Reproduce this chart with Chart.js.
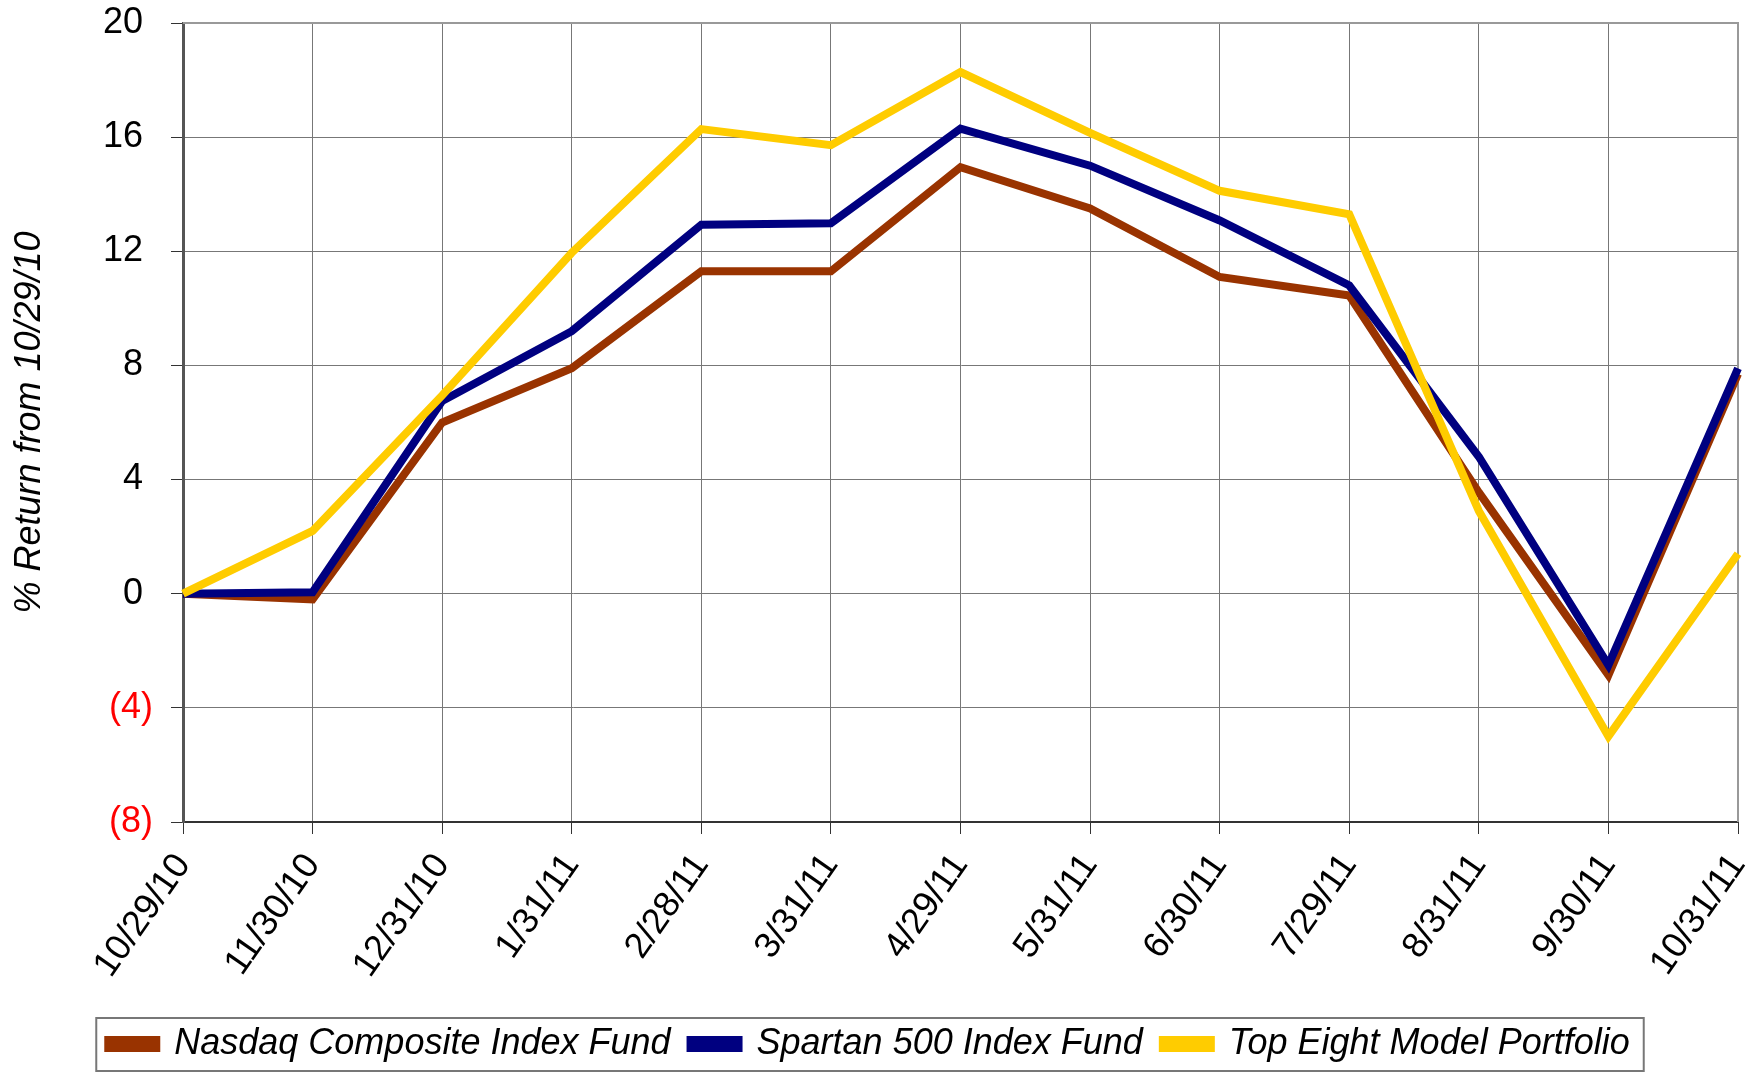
<!DOCTYPE html>
<html>
<head>
<meta charset="utf-8">
<script src="https://cdn.jsdelivr.net/npm/chart.js@4/dist/chart.umd.min.js"></script>
<style>
  html, body { margin: 0; padding: 0; background: #fff; }
  #wrap { width: 1747px; height: 1072px; }
</style>
</head>
<body>
<div id="wrap"><canvas id="chart" width="1747" height="1072"></canvas></div>
<script>
// dates of the month-end points
const dates = ['10/29/10', '11/30/10', '12/31/10', '1/31/11', '2/28/11', '3/31/11', '4/29/11',
               '5/31/11', '6/30/11', '7/29/11', '8/31/11', '9/30/11', '10/31/11']

// % return from 10/29/10
const nasdaq   = [0, -0.2, 6.0, 7.9, 11.3, 11.3, 14.95, 13.5, 11.1, 10.45, 3.55, -2.85, 7.7]
const spartan  = [0, 0.05, 6.75, 9.2, 12.93, 12.98, 16.3, 15.0, 13.08, 10.8, 4.8, -2.5, 7.9]
const topEight = [0, 2.2, 6.95, 11.95, 16.28, 15.72, 18.28, 16.15, 14.12, 13.3, 2.9, -5.0, 1.4]

const seriesNames = ['Nasdaq Composite Index Fund', 'Spartan 500 Index Fund', 'Top Eight Model Portfolio']
const seriesColors = ['#993300', '#000080', '#FFCC00']

const yMin = -8
const yMax = 20
const yStep = 4

const FONT = 'Arial, "Liberation Sans", sans-serif'

// frame around plot + box around legend
const framePlugin = {
    id: 'frame',
    beforeDatasetsDraw(chart) {
        const {ctx, chartArea: a} = chart
        ctx.save()
        ctx.strokeStyle = '#999'
        ctx.lineWidth = 2
        ctx.beginPath()
        ctx.moveTo(a.left, a.top)
        ctx.lineTo(a.right, a.top)
        ctx.lineTo(a.right, a.bottom)
        ctx.stroke()
        ctx.restore()
    },
    afterDraw(chart) {
        const lg = chart.legend
        if (!lg || !lg.legendHitBoxes.length) return
        const boxes = lg.legendHitBoxes
        const left = Math.min(...boxes.map(b => b.left)) - 12
        const right = Math.max(...boxes.map(b => b.left + b.width)) + 14
        const ctx = chart.ctx
        ctx.save()
        ctx.strokeStyle = '#777'
        ctx.lineWidth = 2
        ctx.strokeRect(left, lg.top + 12, right - left, chart.height - lg.top - 13)
        ctx.restore()
    }
}

const makeSet = (i, data, order) => ({
    label: seriesNames[i],
    data,
    borderColor: seriesColors[i],
    backgroundColor: seriesColors[i],
    borderWidth: 8,
    pointRadius: 0,
    tension: 0,
    order
})

const gridOpts = {
    color: '#777',
    lineWidth: 1,
    borderDash: [1, 1],
    tickLength: 12,
    tickColor: '#333',
    tickBorderDash: [],
    tickWidth: 1
}

new Chart(document.getElementById('chart').getContext('2d'), {
    type: 'line',
    data: {
        labels: dates,
        datasets: [
            makeSet(0, nasdaq, 2),
            makeSet(1, spartan, 1),
            makeSet(2, topEight, 0)
        ]
    },
    plugins: [framePlugin],
    options: {
        responsive: false,
        devicePixelRatio: 1,
        animation: false,
        layout: { padding: { top: 23, right: 9, left: 0, bottom: 0 } },
        plugins: {
            tooltip: { enabled: false },
            legend: {
                position: 'bottom',
                labels: {
                    sort: (a, b) => a.datasetIndex - b.datasetIndex,
                    boxWidth: 48,
                    boxHeight: 8,
                    padding: 20,
                    color: '#000',
                    font: { family: FONT, size: 36, style: 'italic' }
                }
            }
        },
        scales: {
            x: {
                grid: gridOpts,
                border: { display: true, color: '#333', width: 2 },
                ticks: {
                    minRotation: 55,
                    maxRotation: 55,
                    autoSkip: false,
                    padding: 12,
                    color: '#000',
                    font: { family: FONT, size: 36 }
                },
                afterFit: (scale) => {
                    scale.height = 184
                    scale.paddingLeft = 0
                    scale.paddingRight = 0
                }
            },
            y: {
                min: yMin,
                max: yMax,
                grid: gridOpts,
                border: { display: true, color: '#555', width: 3 },
                ticks: {
                    stepSize: yStep,
                    padding: 18,
                    color: (c) => (c.tick && c.tick.value < 0 ? '#FF0000' : '#000'),
                    font: { family: FONT, size: 36 },
                    callback: (v) => (v < 0 ? '(' + Math.abs(v) + ')' : v + ' ')
                },
                title: {
                    display: true,
                    text: '% Return from 10/29/10',
                    color: '#000',
                    padding: { top: 8, bottom: 0 },
                    font: { family: FONT, size: 36, style: 'italic' }
                },
                afterFit: (scale) => {
                    scale.width = 183
                    scale.paddingTop = 0
                    scale.paddingBottom = 0
                }
            }
        }
    }
})
</script>
</body>
</html>
